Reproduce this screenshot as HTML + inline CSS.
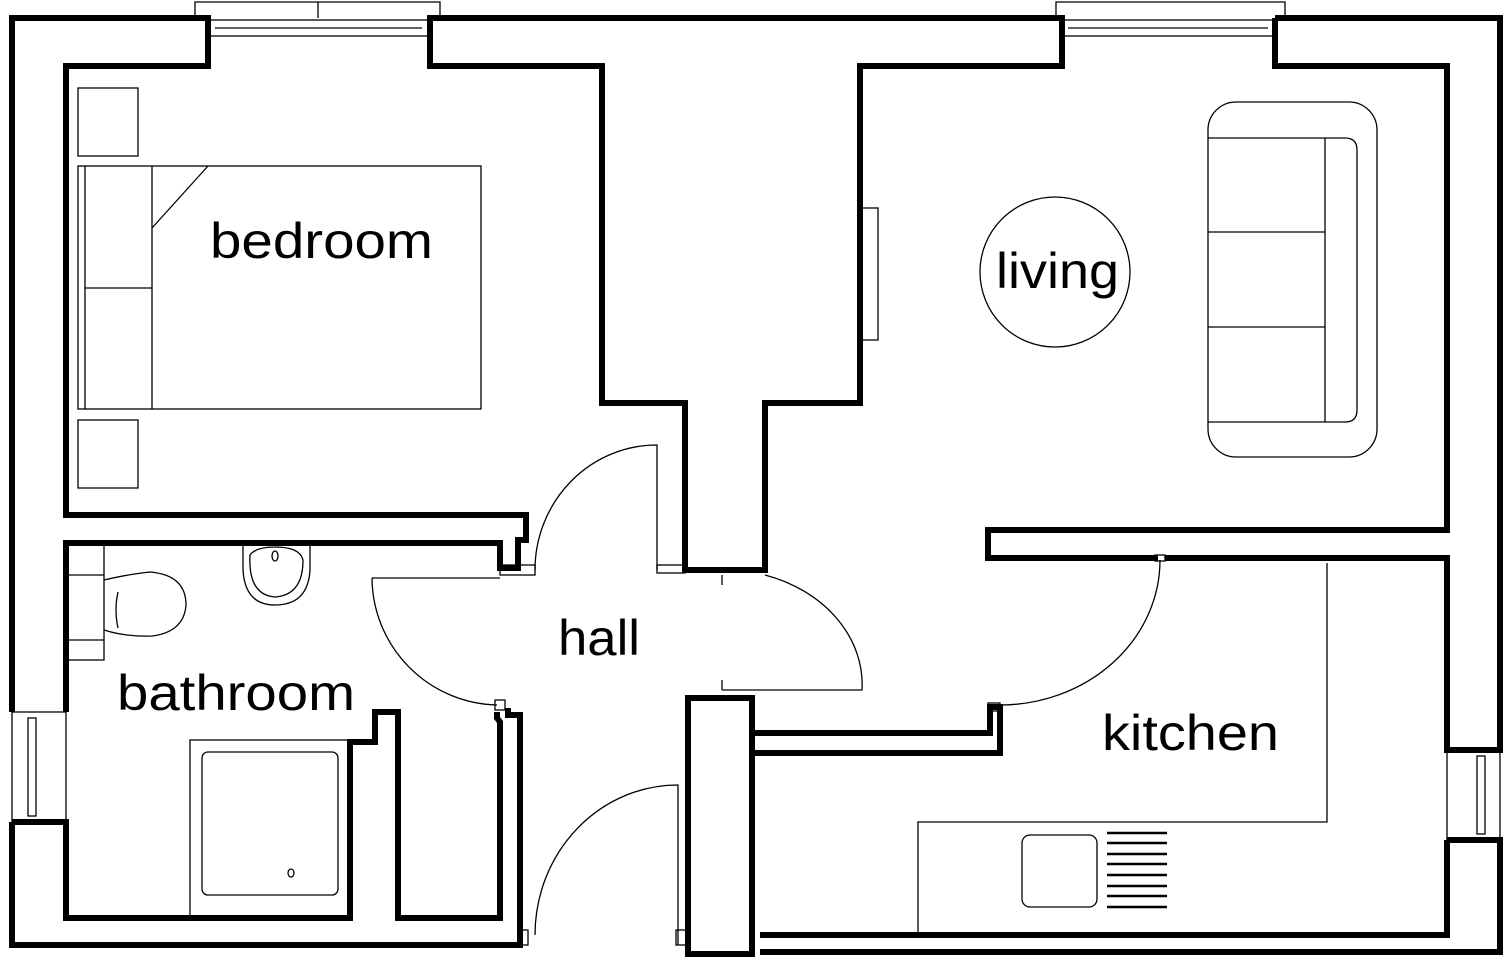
<!DOCTYPE html>
<html><head><meta charset="utf-8"><style>
html,body{margin:0;padding:0;background:#fff;}
svg{display:block}
text{font-family:"Liberation Sans",sans-serif;font-size:50px;fill:#000}
</style></head><body>
<svg width="1512" height="968" viewBox="0 0 1512 968" xmlns="http://www.w3.org/2000/svg">
<g fill="none" stroke="#000" stroke-width="6" stroke-linejoin="miter">
<!-- top-left outer + bedroom -->
<polyline points="12,712 12,18 208,18 208,66 66,66 66,515 526,515 526,540 518,540 518,568 500,568 500,543 66,543 66,712"/>
<!-- central corridor block -->
<polygon points="430,18 1062,18 1062,66 860,66 860,403 765,403 765,570 685,570 685,403 602,403 602,66 430,66"/>
<!-- right outer + living -->
<polyline points="1275,18 1500,18 1500,750 1447,750 1447,558 1165,558"/>
<polyline points="1158,558 988,558 988,530 1447,530 1447,66 1275,66 1275,18"/>
<!-- kitchen bottom right -->
<polyline points="1447,840 1500,840 1500,952 760,952"/>
<polyline points="760,935 1447,935 1447,840"/>
<!-- pillar -->
<rect x="688" y="698" width="64" height="256"/>
<!-- kitchen left wall -->
<polygon points="752,733 990,733 990,707 1000,707 1000,753 752,753"/>
<!-- bathroom bottom -->
<polyline points="12,822 66,822 66,918 350,918 350,742 375,742 375,712 398,712 398,918 500,918 500,722 497,718 497,712"/>
<polyline points="12,822 12,945 520,945 520,715 508,715 508,708"/>
</g>
<g fill="none" stroke="#000" stroke-width="1.3">
<!-- windows -->
<rect x="208" y="20" width="222" height="16"/>
<line x1="215" y1="28" x2="422" y2="28"/>
<polyline points="195,18 195,2 440,2 440,18"/>
<line x1="318" y1="2" x2="318" y2="18"/>
<rect x="1062" y="20" width="213" height="16"/>
<line x1="1068" y1="28" x2="1268" y2="28"/>
<polyline points="1056,18 1056,2 1285,2 1285,18"/>
<rect x="12" y="712" width="54" height="110"/>
<rect x="28" y="718" width="8" height="98"/>
<rect x="1447" y="750" width="53" height="90"/>
<rect x="1477" y="756" width="8" height="78"/>
<!-- doors -->
<path d="M535,570 A122,125 0 0 1 657,445 L657,570"/>
<rect x="657" y="565" width="28" height="8"/>
<rect x="500" y="565" width="35" height="10"/>
<path d="M372,578 L500,578 M372,578 A128,128 0 0 0 497,705"/>
<rect x="495" y="700" width="10" height="10"/>
<path d="M765,575 A140,115 0 0 1 862,690 L722,690 M722,575 L722,585 M722,680 L722,690"/>
<path d="M1160,560 A160,145 0 0 1 1000,705"/>
<rect x="988" y="703" width="12" height="8"/>
<rect x="1155" y="555" width="10" height="6"/>
<path d="M535,935 A143,150 0 0 1 678,785 L678,945"/>
<rect x="520" y="930" width="8" height="15"/>
<rect x="676" y="930" width="10" height="15"/>
<!-- radiator -->
<rect x="862" y="208" width="16" height="132"/>
<!-- bedroom -->
<rect x="78" y="88" width="60" height="68"/>
<rect x="78" y="420" width="60" height="68"/>
<rect x="78" y="166" width="403" height="243"/>
<line x1="85" y1="166" x2="85" y2="409"/>
<line x1="152" y1="166" x2="152" y2="409"/>
<line x1="85" y1="288" x2="152" y2="288"/>
<line x1="152" y1="228" x2="208" y2="166"/>
<!-- living -->
<circle cx="1055" cy="272" r="75"/>
<rect x="1208" y="102" width="169" height="355" rx="28"/>
<path d="M1208,138 L1345,138 Q1357,138 1357,150 L1357,410 Q1357,422 1345,422 L1208,422"/>
<line x1="1325" y1="138" x2="1325" y2="422"/>
<line x1="1208" y1="232" x2="1325" y2="232"/>
<line x1="1208" y1="327" x2="1325" y2="327"/>
<!-- kitchen -->
<polyline points="918,935 918,822 1327,822 1327,563"/>
<rect x="1022" y="835" width="75" height="72" rx="8"/>
<!-- bathroom -->
<rect x="66" y="545" width="38" height="115"/>
<line x1="66" y1="575" x2="104" y2="575"/>
<line x1="66" y1="640" x2="104" y2="640"/>
<path d="M104,580 Q130,574 150,572 Q186,575 186,605 Q184,632 152,636 Q126,637 104,630"/>
<path d="M118,592 Q114,610 118,628"/>
<path d="M243,545 L243,570 Q245,605 275,605 Q308,605 310,570 L310,545"/>
<path d="M250,555 Q256,547 275,547 Q300,547 303,560 Q303,595 275,597 Q248,595 250,555 Z"/>
<ellipse cx="275" cy="556" rx="3" ry="5"/>
<rect x="190" y="740" width="160" height="178"/>
<rect x="202" y="752" width="136" height="143" rx="6"/>
<ellipse cx="291" cy="873" rx="3" ry="4"/>
</g>
<g stroke="#000" stroke-width="2.5">
<line x1="1107" y1="833" x2="1167" y2="833"/>
<line x1="1107" y1="843" x2="1167" y2="843"/>
<line x1="1107" y1="854" x2="1167" y2="854"/>
<line x1="1107" y1="864" x2="1167" y2="864"/>
<line x1="1107" y1="875" x2="1167" y2="875"/>
<line x1="1107" y1="886" x2="1167" y2="886"/>
<line x1="1107" y1="896" x2="1167" y2="896"/>
<line x1="1107" y1="907" x2="1167" y2="907"/>
</g>
<text x="210" y="258" textLength="223" lengthAdjust="spacingAndGlyphs">bedroom</text>
<text x="996" y="288" textLength="123" lengthAdjust="spacingAndGlyphs">living</text>
<text x="558" y="655" textLength="82" lengthAdjust="spacingAndGlyphs">hall</text>
<text x="117" y="710" textLength="238" lengthAdjust="spacingAndGlyphs">bathroom</text>
<text x="1102" y="750" textLength="177" lengthAdjust="spacingAndGlyphs">kitchen</text>
</svg>
</body></html>
